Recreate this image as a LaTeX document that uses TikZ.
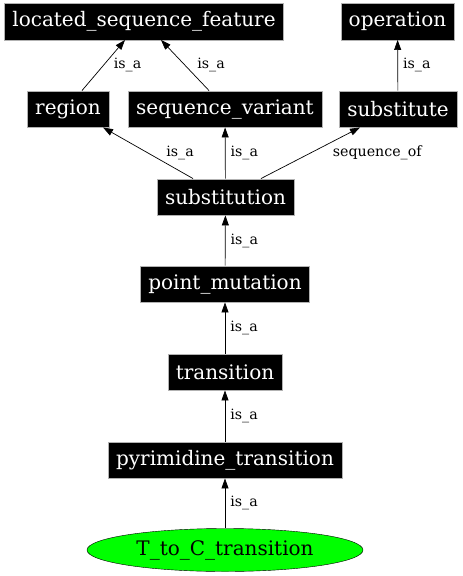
\documentclass[tikz,border=0pt]{standalone}
\usepackage{fontspec}
\setmainfont{DejaVu Serif}
\usetikzlibrary{arrows.meta,shapes.geometric}

\tikzset{
  term/.style={fill=black, draw=gray!60, text=white, font=\fontsize{20}{22}\selectfont,
    inner xsep=8pt, minimum height=36.5pt},
  leaf/.style={ellipse, fill=green, draw=black, font=\fontsize{20}{22}\selectfont,
    minimum width=276pt, minimum height=43pt, inner sep=0pt},
  isa/.style={draw=black, line width=0.7pt, -{Triangle[length=10pt,width=7pt]}},
  lbl/.style={font=\fontsize{14.2}{15}\selectfont, inner sep=0pt, anchor=west}
}

\begin{document}
\begin{tikzpicture}[x=1pt, y=-1pt]
\useasboundingbox (0,0) rectangle (463,576);

% top row
\node[term] (lsf) at (144,21.5) {located\_sequence\_feature};
\node[term] (operation) at (397.5,21.5) {operation};

% second row
\node[term] (region) at (68,109) {region};
\node[term] (seqvar) at (225,109) {sequence\_variant};
\node[term] (substitute) at (398,109) {substitute};

% chain
\node[term] (substitution) at (225.5,197) {substitution};
\node[term] (pointmut) at (225,284) {point\_mutation};
\node[term] (transition) at (225,372) {transition};
\node[term] (pyrtrans) at (225,460) {pyrimidine\_transition};
\node[leaf] (ttoc) at (225,550) {T\_to\_C\_transition};

\draw[isa] ([xshift=14pt]region.north) -- ([xshift=-19pt]lsf.south)
  node[lbl, midway, xshift=10pt] {is\_a};
\draw[isa] ([xshift=-16pt]seqvar.north) -- ([xshift=17pt]lsf.south)
  node[lbl, midway, xshift=12pt] {is\_a};
\draw[isa] (substitute) -- (operation)
  node[lbl, midway, xshift=5pt] {is\_a};

\draw[isa] ([xshift=-32.5pt]substitution.north) -- ([xshift=35pt]region.south)
  node[lbl, midway, xshift=18pt] {is\_a};
\draw[isa] (substitution) -- (seqvar)
  node[lbl, midway, xshift=5pt] {is\_a};
\draw[isa] ([xshift=35.5pt]substitution.north) -- ([xshift=-38pt]substitute.south)
  node[lbl, midway, xshift=22pt] {sequence\_of};

\draw[isa] (pointmut) -- (substitution)
  node[lbl, midway, xshift=5pt] {is\_a};
\draw[isa] (transition) -- (pointmut)
  node[lbl, midway, xshift=5pt] {is\_a};
\draw[isa] (pyrtrans) -- (transition)
  node[lbl, midway, xshift=5pt] {is\_a};
\draw[isa] (ttoc) -- (pyrtrans)
  node[lbl, midway, xshift=5pt] {is\_a};
\end{tikzpicture}
\end{document}
